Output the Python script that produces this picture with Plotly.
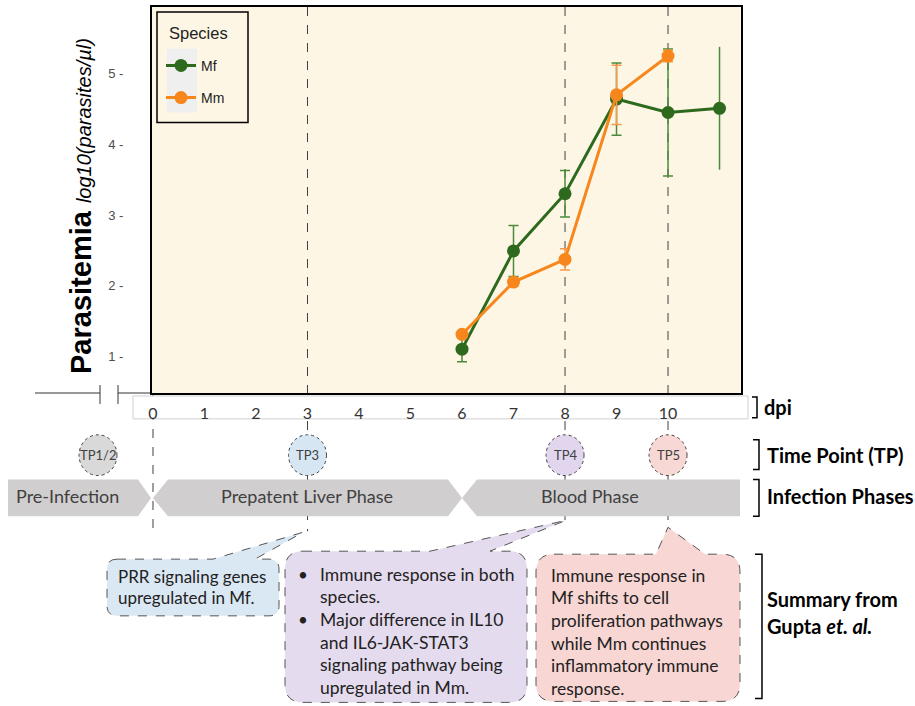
import plotly.graph_objects as go

# ---------------- data ----------------
days_mf = [6, 7, 8, 9, 10, 11]
mf_vals = [1.10, 2.49, 3.30, 4.64, 4.45, 4.51]
mf_err = [0.18, 0.36, 0.33, 0.51, 0.90, 0.87]
days_mm = [6, 7, 8, 9, 10]
mm_vals = [1.31, 2.05, 2.37, 4.70, 5.25]
mm_err = [0.05, 0.06, 0.15, 0.42, 0.08]
dpi_ticks = list(range(0, 11))
y_ticks = [1, 2, 3, 4, 5]
tp_days = [3, 8, 10]
tp_labels = ["TP1/2", "TP3", "TP4", "TP5"]
phase_labels = ["Pre-Infection", "Prepatent Liver Phase", "Blood Phase"]
row_labels = ["dpi", "Time Point (TP)", "Infection Phases"]
blue_text = ["PRR signaling genes", "upregulated in Mf."]
purple_text = ["Immune response in both", "species.", "Major difference in IL10",
               "and IL6-JAK-STAT3", "signaling pathway being", "upregulated in Mm."]
purple_bullets = [True, False, True, False, False, False]
pink_text = ["Immune response in", "Mf shifts to cell", "proliferation pathways",
             "while Mm continues", "inflammatory immune", "response."]

# ---------------- geometry ----------------
W, H = 915, 706
L, R, T, B = 152, 741, 5, 393
XR = [-0.0194, 11.417]
YR = [0.479, 5.944]

GREEN = "#2D6A1E"
ORANGE = "#F7861C"
FONT = "Lato"


def px(x):
    return (x - L) / (R - L)


def py(y):
    return (B - y) / (B - T)


def dpx(d):
    return L + (d - XR[0]) / (XR[1] - XR[0]) * (R - L)


def pt(x, y):
    return f"{px(x):.5f},{py(y):.5f}"


def poly(points):
    s = "M " + pt(*points[0])
    for p in points[1:]:
        s += " L " + pt(*p)
    return s + " Z"


def callout(x0, y0, x1, y1, r, ta, tb, tip):
    s = "M " + pt(x0 + r, y0)
    s += " L " + pt(ta, y0) + " L " + pt(*tip) + " L " + pt(tb, y0)
    s += " L " + pt(x1 - r, y0) + " Q " + pt(x1, y0) + " " + pt(x1, y0 + r)
    s += " L " + pt(x1, y1 - r) + " Q " + pt(x1, y1) + " " + pt(x1 - r, y1)
    s += " L " + pt(x0 + r, y1) + " Q " + pt(x0, y1) + " " + pt(x0, y1 - r)
    s += " L " + pt(x0, y0 + r) + " Q " + pt(x0, y0) + " " + pt(x0 + r, y0)
    return s + " Z"


fig = go.Figure()

# extra error bar (no caps) for the last Mf point
fig.add_trace(go.Scatter(
    x=days_mf[-1:], y=mf_vals[-1:], mode="lines", showlegend=False, legendgroup="mf",
    line=dict(color=GREEN),
    error_y=dict(type="data", array=mf_err[-1:], color="#4B8A3A", thickness=1.5, width=0),
    hoverinfo="skip"))

fig.add_trace(go.Scatter(
    x=days_mf, y=mf_vals, name="Mf", legendgroup="mf", mode="lines+markers",
    line=dict(color=GREEN, width=3), marker=dict(color=GREEN, size=13),
    error_y=dict(type="data", array=mf_err[:-1] + [0], color="#4B8A3A", thickness=1.5, width=5)))

fig.add_trace(go.Scatter(
    x=days_mm, y=mm_vals, name="Mm", legendgroup="mm", mode="lines+markers",
    line=dict(color=ORANGE, width=3), marker=dict(color=ORANGE, size=13),
    error_y=dict(type="data", array=mm_err, color="#F59A4A", thickness=1.5, width=5)))

shapes = []
# plot background
shapes.append(dict(type="rect", xref="paper", yref="paper", x0=0, x1=1, y0=0, y1=1,
                   fillcolor="#FDF6E4", line=dict(width=0), layer="below"))
# legend box and key background
shapes.append(dict(type="rect", xref="paper", yref="paper", x0=px(157), x1=px(248),
                   y0=py(121), y1=py(10), fillcolor="rgba(0,0,0,0)",
                   line=dict(color="black", width=1.5), layer="below"))
shapes.append(dict(type="rect", xref="paper", yref="paper", x0=px(167), x1=px(197),
                   y0=py(111), y1=py(47), fillcolor="#EFEFEF", line=dict(width=0), layer="below"))

# dashed vertical guide lines
ends = {3: 532, 8: 521, 10: 528}
for d in tp_days:
    xp = px(dpx(d))
    shapes.append(dict(type="line", xref="paper", yref="paper", x0=xp, x1=xp,
                       y0=py(T), y1=py(ends[d]),
                       line=dict(color="#404040", width=1, dash="dash"), layer="below"))
x0p = px(dpx(0))
shapes.append(dict(type="line", xref="paper", yref="paper", x0=x0p, x1=x0p,
                   y0=py(B), y1=py(530),
                   line=dict(color="#404040", width=1, dash="dash"), layer="below"))

# dpi strip box
shapes.append(dict(type="rect", xref="paper", yref="paper", x0=px(133), x1=px(748),
                   y0=py(419), y1=py(396), fillcolor="white",
                   line=dict(color="#D0D0D0", width=1), layer="below"))

# axis break at left
brk = dict(color="#333333", width=1)
for (xa, ya, xb, yb) in [(35, 393, 100, 393), (118, 393, 152, 393),
                          (100, 385, 100, 404), (118, 385, 118, 404)]:
    shapes.append(dict(type="line", xref="paper", yref="paper", x0=px(xa), x1=px(xb),
                       y0=py(ya), y1=py(yb), line=brk, layer="below"))

# time point ellipses
tp_x = [98, dpx(3), dpx(8), dpx(10)]
tp_fill = ["#D9D9D9", "#D7E6F3", "#E2D6EE", "#F8D8D4"]
for xc, fc in zip(tp_x, tp_fill):
    shapes.append(dict(type="circle", xref="paper", yref="paper",
                       x0=px(xc - 19), x1=px(xc + 19), y0=py(476), y1=py(435),
                       fillcolor=fc, line=dict(color="#404040", width=1, dash="dot"),
                       layer="below"))

# infection phase chevrons
PH = "#D0CECE"
yt, ym, yb = 480, 498.5, 517
phase_paths = [
    poly([(8, yt), (138, yt), (151, ym), (138, yb), (8, yb)]),
    poly([(153, ym), (168, yt), (448, yt), (462, ym), (448, yb), (168, yb)]),
    poly([(462, ym), (477, yt), (740, yt), (740, yb), (477, yb)]),
]
for p in phase_paths:
    shapes.append(dict(type="path", xref="paper", yref="paper", path=p, fillcolor=PH,
                       line=dict(width=0), layer="below"))

# callouts
cl = dict(color="#555555", width=1, dash="dash")
shapes.append(dict(type="path", xref="paper", yref="paper",
                   path=callout(107, 560, 279, 617, 10, 213, 255, (303, 533)),
                   fillcolor="#DAE8F4", line=cl, layer="below"))
shapes.append(dict(type="path", xref="paper", yref="paper",
                   path=callout(285, 552, 527, 704, 18, 430, 490, (566, 521)),
                   fillcolor="#E5DBEE", line=cl, layer="below"))
shapes.append(dict(type="path", xref="paper", yref="paper",
                   path=callout(536, 555, 740, 703, 18, 656, 705, (668, 528)),
                   fillcolor="#F8D6D3", line=cl, layer="below"))

# right-side brackets
bk = dict(color="black", width=1.5)
for (x0b, x1b, y0b, y1b) in [(752, 757, 397, 418), (753, 759, 440, 470),
                              (753, 759, 480, 517), (755, 762, 555, 700)]:
    p = "M " + pt(x0b, y0b) + " L " + pt(x1b, y0b) + " L " + pt(x1b, y1b) + " L " + pt(x0b, y1b)
    shapes.append(dict(type="path", xref="paper", yref="paper", path=p, line=bk, layer="below"))

annotations = []


def text(x, y, s, size=16, color="#222222", anchor="left", family=FONT, **kw):
    annotations.append(dict(x=px(x), y=py(y), xref="paper", yref="paper", text=s,
                            showarrow=False, xanchor=anchor, yanchor="middle",
                            font=dict(family=family, size=size, color=color), **kw))


# legend title
text(167, 31, "Species", size=16.5, family="Arial")

# y-axis title
annotations.append(dict(
    x=px(81), y=py(205), xref="paper", yref="paper", showarrow=False, textangle=-90,
    xanchor="center", yanchor="middle",
    text="<b>Parasitemia</b> <i><span style='font-size:20px'>log10(parasites/µl)</span></i>",
    font=dict(family="Arial", size=29, color="black")))

# TP labels
for xc, lab in zip(tp_x, tp_labels):
    text(xc, 455, lab, size=13, color="#404040", anchor="center")

# phase labels
for xc, lab in zip([68, 307, 590], phase_labels):
    text(xc, 497, lab, size=18, color="#404040", anchor="center")

# right-side row labels
for yy, lab, xx in zip([407, 455, 497], row_labels, [762, 765, 765]):
    text(xx, yy, "<b>" + lab + "</b>", size=20, color="black")
text(765, 600, "<b>Summary from</b>", size=20, color="black")
text(765, 627, "<b>Gupta <i>et. al.</i></b>", size=20, color="black")

# callout texts
for i, s in enumerate(blue_text):
    text(116, 577 + 22 * i, s, size=17)
for i, (s, b) in enumerate(zip(purple_text, purple_bullets)):
    yy = 575 + 22.8 * i
    if b:
        text(296, yy, "•", size=17)
    text(318, yy, s, size=17.5)
for i, s in enumerate(pink_text):
    text(549, 576 + 22.8 * i, s, size=17.5)

fig.update_layout(
    width=W, height=H,
    margin=dict(l=L, r=W - R, t=T, b=H - B, pad=0),
    paper_bgcolor="white", plot_bgcolor="rgba(0,0,0,0)",
    shapes=shapes, annotations=annotations,
    showlegend=True,
    legend=dict(x=px(161), y=py(48), xanchor="left", yanchor="top",
                bgcolor="rgba(0,0,0,0)", borderwidth=0,
                font=dict(family="Arial", size=14, color="#222222"),
                tracegroupgap=11, itemwidth=30),
    xaxis=dict(range=XR, tickvals=dpi_ticks, ticktext=[str(v) for v in dpi_ticks],
               showgrid=False, zeroline=False, showline=True, mirror=True,
               linecolor="black", linewidth=2, ticks="",
               tickfont=dict(family=FONT, size=16, color="#333333"),
               ticklabelstandoff=5),
    yaxis=dict(range=YR, tickvals=y_ticks, ticktext=[f"{v} -" for v in y_ticks],
               showgrid=False, zeroline=False, showline=True, mirror=True,
               linecolor="black", linewidth=2, ticks="",
               tickfont=dict(family="Arial", size=13, color="#4D4D4D"),
               ticklabelstandoff=24),
)

fig.write_html("out.html", config={"displayModeBar": False},
               post_script="document.body.style.margin='0px';")
